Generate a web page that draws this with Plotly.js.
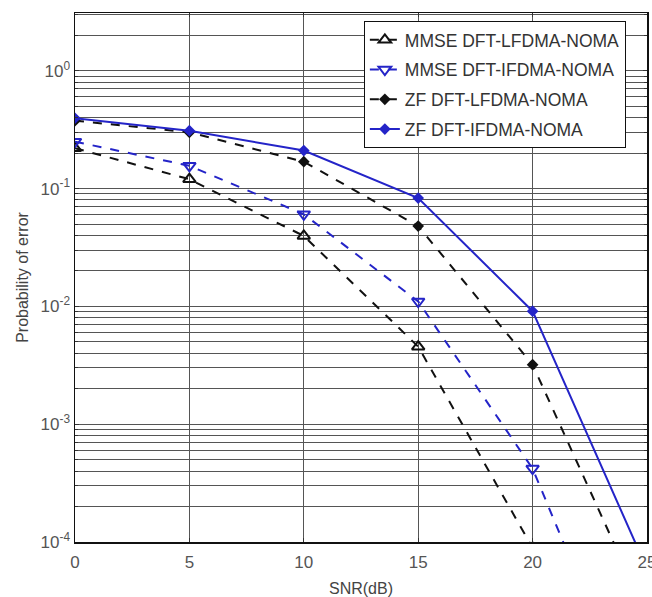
<!DOCTYPE html>
<html>
<head>
<meta charset="utf-8">
<script src="https://cdn.plot.ly/plotly-3.0.1.min.js"></script>
<style>
html,body{margin:0;padding:0;background:#fff;overflow:hidden;}
#chart{width:652px;height:597px;overflow:hidden;}
</style>
</head>
<body>
<div id="chart"></div>
<script>
// Data
const snr = [0, 5, 10, 15, 20, 25];
const mmseLfdma = [0.22, 0.12, 0.0396, 0.00455, 8.9e-5, 1.0e-6];
const mmseIfdma = [0.25, 0.156, 0.0605, 0.011, 4.2e-4, 1.95e-6];
const zfLfdma   = [0.377, 0.30, 0.169, 0.048, 0.0032, 2.36e-5];
const zfIfdma   = [0.395, 0.31, 0.21, 0.083, 0.0091, 5.9e-5];
const seriesNames = ['MMSE DFT-LFDMA-NOMA', 'MMSE DFT-IFDMA-NOMA', 'ZF DFT-LFDMA-NOMA', 'ZF DFT-IFDMA-NOMA'];
const xTicks = [0, 5, 10, 15, 20, 25];
const yTickVals = [1e-4, 1e-3, 1e-2, 1e-1, 1];
const yTickText = ['10<sup>-4</sup>', '10<sup>-3</sup>', '10<sup>-2</sup>', '10<sup>-1</sup>', '10<sup>0</sup>'];

const BLACK = '#111111';
const BLUE = '#2424c8';

// minor grid positions (2..9 per decade)
const minorVals = [];
for (let e = -4; e <= 0; e++) {
  for (let m = 2; m <= 9; m++) minorVals.push(m * Math.pow(10, e));
}

const traces = [
  {x: snr, y: mmseLfdma, name: seriesNames[0], mode: 'lines+markers', legendgroup: 'a',
   line: {color: BLACK, width: 2, dash: 'dash'},
   marker: {symbol: 'triangle-up-open', size: 11, color: BLACK, line: {width: 2, color: BLACK}}},
  {x: snr, y: mmseIfdma, name: seriesNames[1], mode: 'lines+markers', legendgroup: 'b',
   line: {color: BLUE, width: 2, dash: 'dash'},
   marker: {symbol: 'triangle-down-open', size: 11, color: BLUE, line: {width: 2, color: BLUE}}},
  {x: snr, y: zfLfdma, name: seriesNames[2], mode: 'lines+markers', legendgroup: 'c',
   line: {color: BLACK, width: 2, dash: 'dash'},
   marker: {symbol: 'diamond', size: 9, color: BLACK}},
  {x: snr, y: zfIfdma, name: seriesNames[3], mode: 'lines+markers', legendgroup: 'd',
   line: {color: BLUE, width: 2},
   marker: {symbol: 'diamond', size: 9, color: BLUE}}
];

const layout = {
  width: 652, height: 597,
  margin: {l: 75, r: 5, t: 13, b: 55},
  paper_bgcolor: '#ffffff', plot_bgcolor: '#ffffff',
  font: {family: 'Liberation Sans, Arial, sans-serif', color: '#444', size: 16},
  showlegend: true,
  legend: {
    x: 0.505, y: 0.985, xanchor: 'left', yanchor: 'top',
    bgcolor: '#ffffff', bordercolor: '#111', borderwidth: 1,
    font: {size: 17.5, color: '#333'},
    traceorder: 'grouped', tracegroupgap: 4
  },
  xaxis: {
    range: [0, 25], tickvals: xTicks, ticktext: xTicks.map(String),
    automargin: false, ticklabeloverflow: 'allow', ticklabelstandoff: 4,
    showgrid: true, gridcolor: '#555', gridwidth: 1,
    showline: true, linecolor: '#111', linewidth: 1.5, mirror: 'ticks',
    ticks: 'inside', ticklen: 4, tickcolor: '#333',
    zeroline: false,
    tickfont: {size: 17, color: '#555'},
    title: {text: 'SNR(dB)', font: {size: 16, color: '#444'}, standoff: 12}
  },
  yaxis: {
    type: 'log', range: [-4, 0.49],
    automargin: false, ticklabeloverflow: 'allow',
    tickvals: yTickVals, ticktext: yTickText,
    showgrid: true, gridcolor: '#555', gridwidth: 1,
    minor: {tickvals: minorVals, showgrid: true, gridcolor: '#555', gridwidth: 1, ticks: 'inside', ticklen: 3, tickcolor: '#333'},
    showline: true, linecolor: '#111', linewidth: 1.5, mirror: 'ticks',
    ticks: 'inside', ticklen: 4, tickcolor: '#333',
    zeroline: false,
    tickfont: {size: 17, color: '#555'},
    title: {text: 'Probability of error', font: {size: 16, color: '#444'}, standoff: 8}
  }
};

Plotly.newPlot('chart', traces, layout, {displayModeBar: false, staticPlot: true});
</script>
</body>
</html>
